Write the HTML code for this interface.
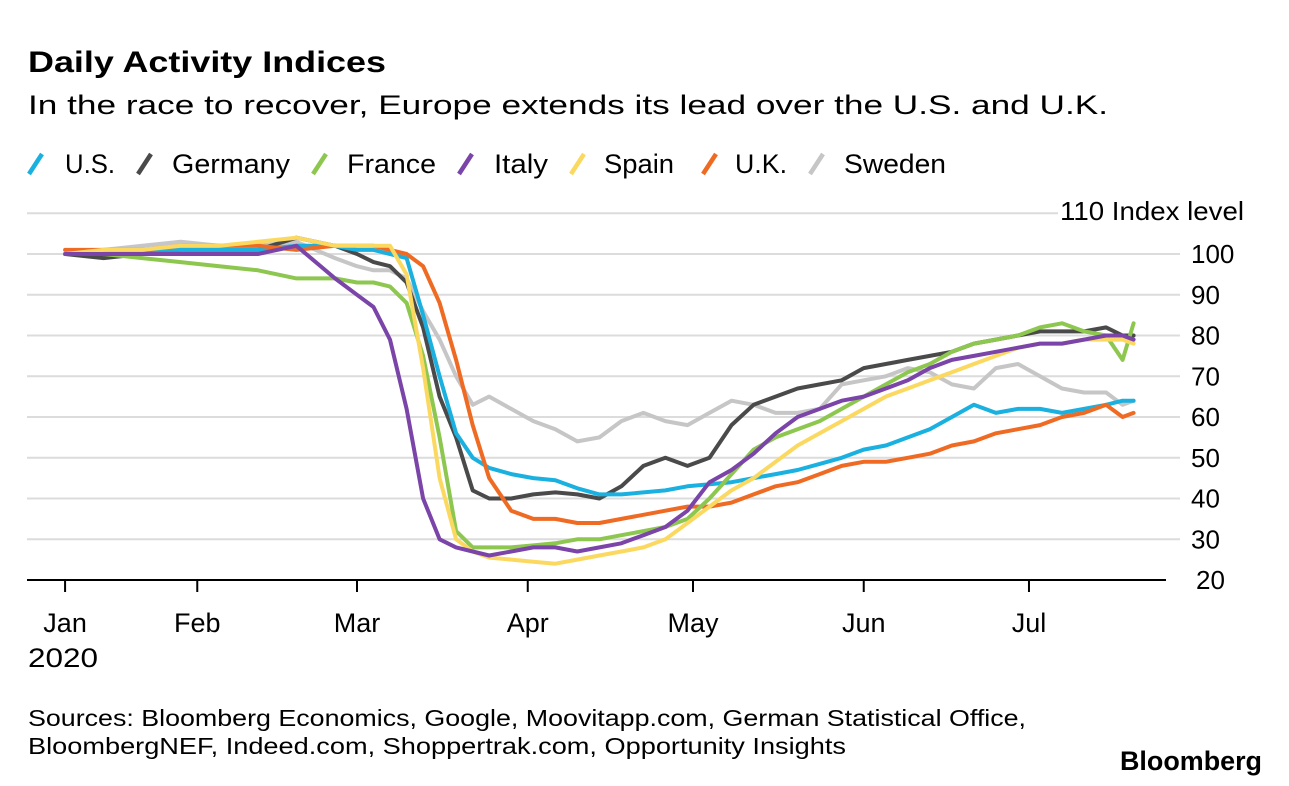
<!DOCTYPE html>
<html><head><meta charset="utf-8"><style>
body{margin:0;background:#fff;}
svg{display:block;font-family:"Liberation Sans",Arial,sans-serif;}
</style></head><body>
<svg id="chart" width="1289" height="786" viewBox="0 0 1289 786">
<text x="28" y="72" font-size="30" font-weight="bold" textLength="358" lengthAdjust="spacingAndGlyphs">Daily Activity Indices</text>
<text x="28" y="114" font-size="27" textLength="1080" lengthAdjust="spacingAndGlyphs">In the race to recover, Europe extends its lead over the U.S. and U.K.</text>
<g id="legend"></g>
<g id="grid"></g>
<g id="series"></g>
<g id="xaxis"></g>
<text x="1244" y="220" font-size="26" text-anchor="end" textLength="184" lengthAdjust="spacingAndGlyphs">110 Index level</text>
<text x="28" y="667" font-size="27" textLength="70" lengthAdjust="spacingAndGlyphs">2020</text>
<text x="28" y="726" font-size="23" textLength="998" lengthAdjust="spacingAndGlyphs">Sources: Bloomberg Economics, Google, Moovitapp.com, German Statistical Office,</text>
<text x="28" y="754" font-size="23" textLength="818" lengthAdjust="spacingAndGlyphs">BloombergNEF, Indeed.com, Shoppertrak.com, Opportunity Insights</text>
<text x="1262" y="770" font-size="27" font-weight="bold" text-anchor="end" textLength="142" lengthAdjust="spacingAndGlyphs">Bloomberg</text>
</svg>
<script>
const dates=[7,14,21,28,35,42,49,56,60,63,66,69,72,75,78,81,84,88,92,96,100,104,108,112,116,120,124,128,132,136,140,144,148,152,156,160,164,168,172,176,180,184,188,192,196,199,201];
const usVals=[100,100,101,101,101,101,102,102,101,101,100,99,85,70,56,50,47.5,46,45,44.5,42.5,41,41,41.5,42,43,43.5,44,45,46,47,48.5,50,52,53,55,57,60,63,61,62,62,61,62,63,64,64];
const germanyVals=[100,99,100,101,101,101,104,102,100,98,97,93,82,65,55,42,40,40,41,41.5,41,40,43,48,50,48,50,58,63,65,67,68,69,72,73,74,75,76,78,79,80,81,81,81,82,80,80];
const franceVals=[100,100,99,98,97,96,94,94,93,93,92,88,75,55,32,28,28,28,28.5,29,30,30,31,32,33,35,40,46,52,55,57,59,62,65,68,71,73,76,78,79,80,82,83,81,80,74,83];
const italyVals=[100,100,100,100,100,100,102,94,90,87,79,62,40,30,28,27,26,27,28,28,27,28,29,31,33,37,44,47,51,56,60,62,64,65,67,69,72,74,75,76,77,78,78,79,80,80,79];
const spainVals=[100,101,101,102,102,103,104,102,102,102,102,95,72,45,30,27,25.5,25,24.5,24,25,26,27,28,30,34,38,42,45,49,53,56,59,62,65,67,69,71,73,75,77,78,78,79,79,79,78];
const ukVals=[101,101,101,102,102,102,101,102,102,102,101,100,97,88,74,58,45,37,35,35,34,34,35,36,37,38,38,39,41,43,44,46,48,49,49,50,51,53,54,56,57,58,60,61,63,60,61];
const swedenVals=[100,101,102,103,102,102,103,99,97,96,96,94,86,79,70,63,65,62,59,57,54,55,59,61,59,58,61,64,63,61,61,62,68,69,70,72,71,68,67,72,73,70,67,66,66,63,64];
const seriesNames=["U.S.","Germany","France","Italy","Spain","U.K.","Sweden"];
const seriesColors=["#1ab0e0","#4a4a4a","#8dc74f","#7b44a8","#fbd960","#ef6a22","#c6c6c6"];
const yTicks=[20,30,40,50,60,70,80,90,100,110];
const monthLabels=["Jan","Feb","Mar","Apr","May","Jun","Jul"];
const monthDays=[7,31,60,91,121,152,182];

const NS="http://www.w3.org/2000/svg";
function xs(d){return 357+(d-60)*5.508;}
function ys(v){return 580-(v-20)*4.075;}
function mk(tag,attrs,parent){const e=document.createElementNS(NS,tag);for(const k in attrs)e.setAttribute(k,attrs[k]);parent.appendChild(e);return e;}

const grid=document.getElementById('grid');
yTicks.forEach(t=>{
  if(t===20)return;
  const l=mk('line',{x1:27,x2:t===110?1058:1180,y1:ys(t),y2:ys(t),stroke:'#dcdcdc','stroke-width':2},grid);
  
  
  if(t!==110){
    const tx=mk('text',{x:1191,y:ys(t)+9,'font-size':26},grid);
    tx.textContent=t;
    
    
  }
});
const t20=mk('text',{x:1196,y:ys(20)+9,'font-size':26},grid);
t20.textContent='20';



const xa=document.getElementById('xaxis');
const base=mk('line',{x1:27,x2:1166,y1:580,y2:580,stroke:'#000','stroke-width':2},xa);


monthLabels.forEach((m,i)=>{
  const x=xs(monthDays[i]);
  const tk=mk('line',{x1:x,x2:x,y1:580,y2:592,stroke:'#000','stroke-width':2},xa);
  
  
  const tx=mk('text',{x:x,y:632,'font-size':27,'text-anchor':'middle'},xa);
  tx.textContent=m;
  
  
});

const allVals=[usVals,germanyVals,franceVals,italyVals,spainVals,ukVals,swedenVals];
const order=[6,1,0,5,2,4,3];
const sg=document.getElementById('series');
order.forEach(i=>{
  const pts=dates.map((d,j)=>xs(d).toFixed(1)+','+ys(allVals[i][j]).toFixed(1)).join(' ');
  const p=mk('polyline',{points:pts,fill:'none',stroke:seriesColors[i],'stroke-width':4,'stroke-linejoin':'round','stroke-linecap':'round'},sg);
  
  
});

const lg=document.getElementById('legend');
const legX=[28,137,312,458,570,702,809];
const legT=[65,172,347,494,604,735,844];
const legW=[50,118,89,54,70,52,102];
seriesNames.forEach((n,i)=>{
  const g=mk('g',{},lg);
  
  
  mk('line',{x1:legX[i]+1,y1:174,x2:legX[i]+14,y2:154,stroke:seriesColors[i],'stroke-width':4.5},g);
  const t=mk('text',{x:legT[i],y:173,'font-size':27,textLength:legW[i],lengthAdjust:'spacingAndGlyphs'},g);
  t.textContent=n;
});
</script>
</body></html>
